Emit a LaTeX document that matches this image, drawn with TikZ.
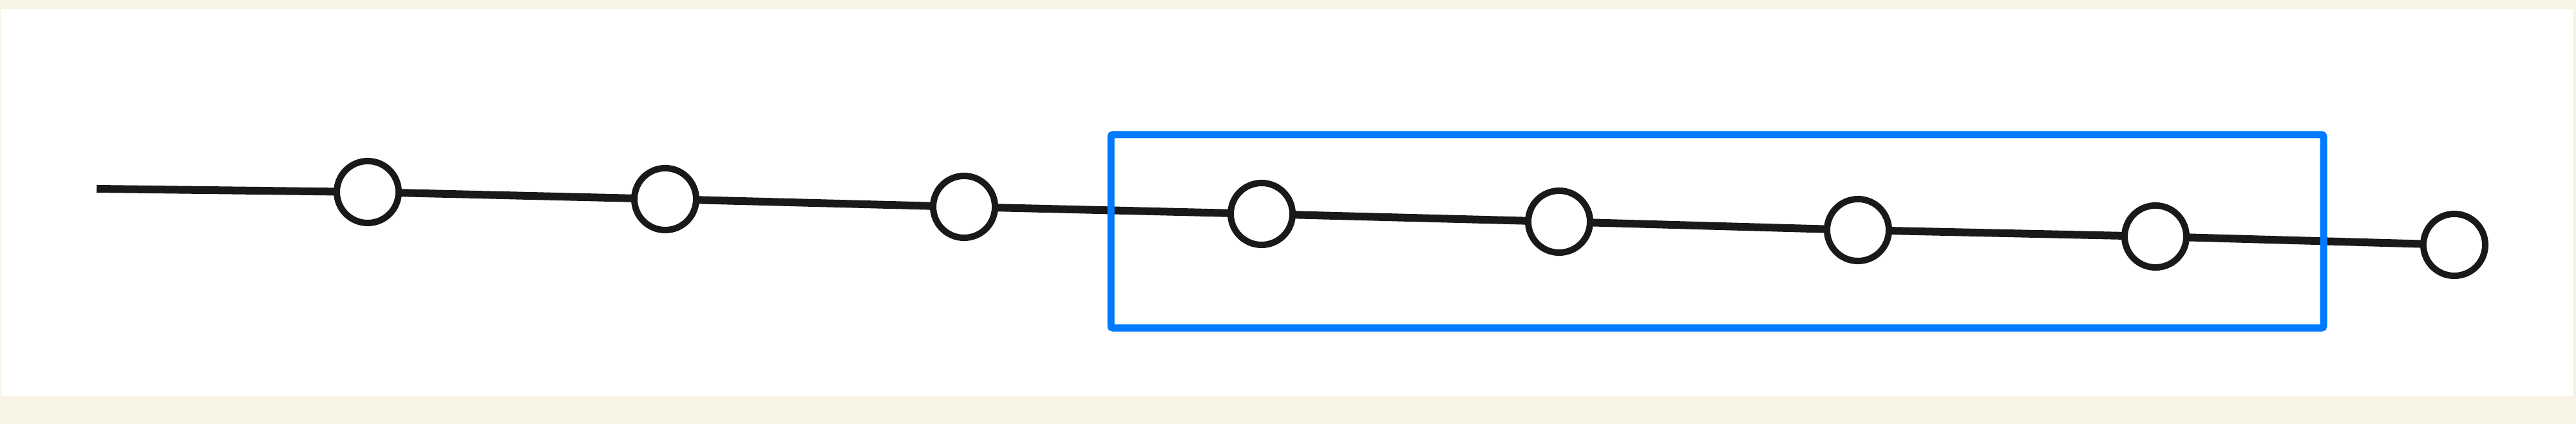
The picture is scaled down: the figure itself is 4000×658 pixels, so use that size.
\documentclass[tikz,border=0pt]{standalone}
\usetikzlibrary{positioning}
\definecolor{beige}{RGB}{247,244,230}
\definecolor{boxblue}{RGB}{0,122,255}
\definecolor{ink}{RGB}{25,25,25}
\tikzset{
  bead/.style={circle, draw=ink, fill=white, line width=0.1cm, minimum size=0.96cm, inner sep=0pt, outer sep=0pt},
  wire/.style={draw=ink, line width=0.12cm},
  framebox/.style={draw=boxblue, line width=0.11cm, rounded corners=0.03cm}
}
\begin{document}
\begin{tikzpicture}[x=0.01cm, y=-0.01cm]
  \fill[beige] (0,0) rectangle (4000,658);
  \fill[white] (2,14) rectangle (3995,615);
  \useasboundingbox (0,0) rectangle (4000,658);
  \coordinate (s) at (150,293);
  \node[bead] (c1) at (571,298) {};
  \node[bead] (c2) at (1033,309) {};
  \node[bead] (c3) at (1497,321) {};
  \node[bead] (c4) at (1959,332) {};
  \node[bead] (c5) at (2421,344) {};
  \node[bead] (c6) at (2885,357) {};
  \node[bead] (c7) at (3347,367) {};
  \node[bead] (c8) at (3811,380) {};
  \draw[wire] (s) -- (c1);
  \draw[wire] (c1) -- (c2);
  \draw[wire] (c2) -- (c3);
  \draw[wire] (c3) -- (c4);
  \draw[wire] (c4) -- (c5);
  \draw[wire] (c5) -- (c6);
  \draw[wire] (c6) -- (c7);
  \draw[wire] (c7) -- (c8);
  \coordinate (b1) at (1725,209);
  \coordinate (b2) at (3608,509);
  \draw[framebox] (b1) rectangle (b2);
\end{tikzpicture}
\end{document}
